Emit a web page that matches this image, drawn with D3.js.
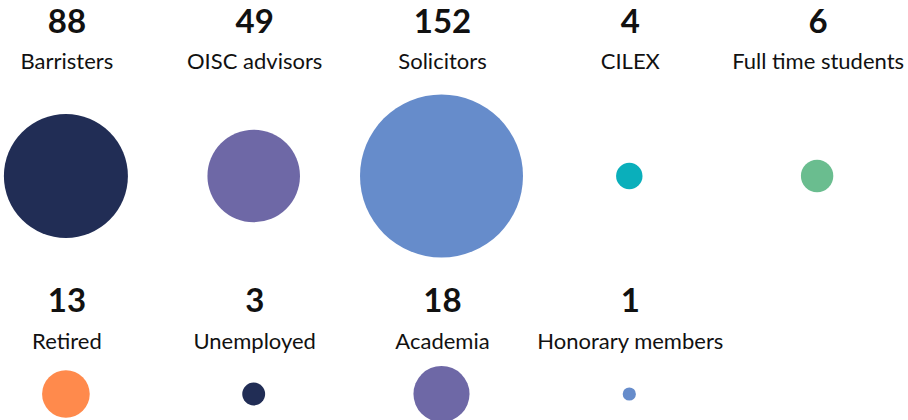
<!DOCTYPE html>
<html>
<head>
<meta charset="utf-8">
<script src="https://cdn.jsdelivr.net/npm/d3@7"></script>
<style>
  body { margin: 0; background: #fff; }
  svg { display: block; font-family: Lato, "Noto Sans", sans-serif; }
</style>
</head>
<body>
<div id="chart"></div>
<script>
// membership categories, two rows
const categories = ['Barristers', 'OISC advisors', 'Solicitors', 'CILEX', 'Full time students',
    'Retired', 'Unemployed', 'Academia', 'Honorary members'];
const counts = [88, 49, 152, 4, 6, 13, 3, 18, 1];
const colours = ['#212d55', '#6e68a6', '#668ccb', '#0aafbb', '#6abd8f',
    '#ff8a4c', '#212d55', '#6e68a6', '#668ccb'];

const width = 908;
const height = 420;
const perRow = 5;

const svg = d3.select('#chart')
    .append('svg')
    .attr('width', width)
    .attr('height', height);

// column positions
const xScale = d3.scaleBand()
    .domain(d3.range(perRow))
    .range([-28, 911]);

// circle area proportional to count
const rScale = d3.scaleSqrt()
    .domain([0, 152])
    .range([0, 81.5]);

const rows = [
    {numY: 33, labelY: 69, circleY: 176},
    {numY: 312, labelY: 349, circleY: 394}
];

const data = categories.map((c, i) => ({
    name: c,
    value: counts[i],
    colour: colours[i],
    col: i % perRow,
    row: Math.floor(i / perRow)
}));

const groups = svg.selectAll('g.item')
    .data(data)
    .enter()
    .append('g')
    .attr('class', 'item')
    .attr('transform', d => 'translate(' + (xScale(d.col) + xScale.bandwidth() / 2) + ',0)');

groups.append('text')
    .attr('text-anchor', 'middle')
    .attr('x', 1)
    .attr('y', d => rows[d.row].numY)
    .style('font-size', '33px')
    .style('font-weight', 700)
    .style('fill', '#111')
    .text(d => d.value);

groups.append('text')
    .attr('text-anchor', 'middle')
    .attr('x', 1)
    .attr('y', d => rows[d.row].labelY)
    .style('font-size', '22px')
    .style('fill', '#111')
    .text(d => d.name);

groups.append('circle')
    .attr('cx', 0)
    .attr('cy', d => rows[d.row].circleY)
    .attr('r', d => rScale(d.value))
    .style('fill', d => d.colour);
</script>
</body>
</html>
